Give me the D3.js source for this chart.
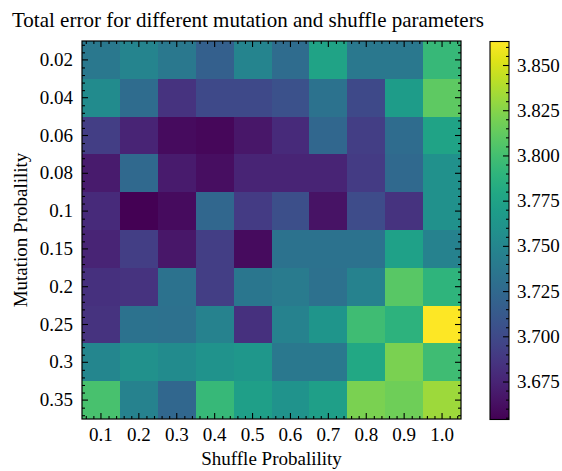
<!DOCTYPE html>
<html><head><meta charset="utf-8">
<script src="https://cdn.jsdelivr.net/npm/d3@7"></script>
<style>
body{margin:0;background:#fff;}
svg text{font-family:'Liberation Serif','Tinos','Nimbus Roman','Times New Roman','DejaVu Serif',serif !important;fill:#000;}
</style></head>
<body><svg id="c" width="562" height="471"></svg>
<script>
const shuffleLabels = ["0.1","0.2","0.3","0.4","0.5","0.6","0.7","0.8","0.9","1.0"];
const mutationLabels = ["0.02","0.04","0.06","0.08","0.1","0.15","0.2","0.25","0.3","0.35"];
// rows: mutation probability, columns: shuffle probability
const errorValues = [
  [3.738,3.748,3.738,3.717,3.748,3.727,3.775,3.738,3.738,3.794],
  [3.754,3.727,3.685,3.700,3.700,3.706,3.733,3.700,3.769,3.811],
  [3.692,3.675,3.660,3.658,3.667,3.679,3.723,3.692,3.727,3.775],
  [3.669,3.725,3.669,3.662,3.675,3.675,3.675,3.690,3.725,3.759],
  [3.679,3.654,3.660,3.723,3.690,3.704,3.664,3.702,3.685,3.759],
  [3.675,3.692,3.667,3.692,3.660,3.733,3.733,3.733,3.773,3.746],
  [3.683,3.685,3.733,3.692,3.736,3.740,3.731,3.746,3.809,3.790],
  [3.685,3.733,3.731,3.746,3.683,3.746,3.763,3.798,3.788,3.863],
  [3.750,3.759,3.754,3.761,3.765,3.738,3.738,3.779,3.821,3.798],
  [3.802,3.746,3.723,3.794,3.771,3.761,3.771,3.821,3.817,3.832]
];
const colorbarTicks = [3.675,3.700,3.725,3.750,3.775,3.800,3.825,3.850];
const titleText = "Total error for different mutation and shuffle parameters";
const xLabel = "Shuffle Probalility";
const yLabel = "Mutation Probalility";

const svg = d3.select("#c");
const L=82, R=461, T=41, B=419;
const FS = 19;

const x = d3.scaleBand().domain(shuffleLabels).range([L,R]).padding(0);
const y = d3.scaleBand().domain(mutationLabels).range([T,B]).padding(0);
const xi = d3.scaleLinear().domain([-0.5,9.5]).range([L,R]);
const yi = d3.scaleLinear().domain([-0.5,9.5]).range([T,B]);
const allVals = errorValues.flat();
const ext = d3.extent(allVals);
const color = d3.scaleSequential(d3.interpolateViridis).domain(ext);

const cells = [];
errorValues.forEach((row,i)=>row.forEach((v,j)=>cells.push({m:mutationLabels[i], s:shuffleLabels[j], v})));
svg.append("g").selectAll("rect").data(cells).join("rect")
  .attr("x",d=>x(d.s)).attr("y",d=>y(d.m))
  .attr("width",x.bandwidth()+0.3).attr("height",y.bandwidth()+0.3)
  .attr("fill",d=>color(d.v)).attr("shape-rendering","crispEdges");

const minor = d3.range(-0.4,9.5,0.2).map(v=>Math.round(v*10)/10).filter(v=>Math.abs(v-Math.round(v))>1e-6);

function styleAxis(g){
  g.attr("font-family",null).attr("font-size",null);
  g.selectAll(".domain").remove();
  g.selectAll(".tick line").attr("stroke","#000").attr("stroke-width",1.1);
  g.selectAll("text").style("font-size",FS+"px");
}
svg.append("g").attr("transform",`translate(0,${B})`)
  .call(d3.axisBottom(x).tickSize(-6).tickPadding(8.5)).call(styleAxis);
svg.append("g").attr("transform",`translate(0,${B})`)
  .call(d3.axisBottom(xi).tickValues(minor).tickSize(-3).tickFormat("")).call(styleAxis);
svg.append("g").attr("transform",`translate(0,${T})`)
  .call(d3.axisTop(x).tickSize(-6).tickFormat("")).call(styleAxis);
svg.append("g").attr("transform",`translate(0,${T})`)
  .call(d3.axisTop(xi).tickValues(minor).tickSize(-3).tickFormat("")).call(styleAxis);
svg.append("g").attr("transform",`translate(${L},0)`)
  .call(d3.axisLeft(y).tickSize(-6).tickPadding(9)).call(styleAxis);
svg.append("g").attr("transform",`translate(${L},0)`)
  .call(d3.axisLeft(yi).tickValues(minor).tickSize(-3).tickFormat("")).call(styleAxis);
svg.append("g").attr("transform",`translate(${R},0)`)
  .call(d3.axisRight(y).tickSize(-6).tickFormat("")).call(styleAxis);
svg.append("g").attr("transform",`translate(${R},0)`)
  .call(d3.axisRight(yi).tickValues(minor).tickSize(-3).tickFormat("")).call(styleAxis);
svg.append("rect").attr("x",L).attr("y",T).attr("width",R-L).attr("height",B-T)
  .attr("fill","none").attr("stroke","#000").attr("stroke-width",1.2);

svg.append("text").attr("x",12).attr("y",27).style("font-size","21px").text(titleText);
svg.append("text").attr("x",(L+R)/2).attr("y",465).attr("text-anchor","middle").style("font-size",FS+"px").text(xLabel);
svg.append("text").attr("transform",`translate(27,${(T+B)/2}) rotate(-90)`).attr("text-anchor","middle").style("font-size",FS+"px").text(yLabel);

const CL=490, CR=509, CT=41.5, CB=419.5;
const cy = d3.scaleLinear().domain(ext).range([CB,CT]);
const defs = svg.append("defs");
const grad = defs.append("linearGradient").attr("id","vg").attr("x1","0").attr("y1","1").attr("x2","0").attr("y2","0");
d3.range(0,1.0001,0.05).forEach(t=>grad.append("stop").attr("offset",t).attr("stop-color",d3.interpolateViridis(t)));
svg.append("rect").attr("x",CL).attr("y",CT).attr("width",CR-CL).attr("height",CB-CT).attr("fill","url(#vg)");
const cbMinor = d3.range(3.655,3.8631,0.005).map(v=>Math.round(v*1000)/1000).filter(v=>!colorbarTicks.some(t=>Math.abs(t-v)<1e-6));
svg.append("g").attr("transform",`translate(${CR},0)`)
  .call(d3.axisRight(cy).tickValues(colorbarTicks).tickSize(-6).tickPadding(8).tickFormat(d3.format(".3f"))).call(styleAxis);
svg.append("g").attr("transform",`translate(${CR},0)`)
  .call(d3.axisRight(cy).tickValues(cbMinor).tickSize(-3).tickFormat("")).call(styleAxis);
svg.append("rect").attr("x",CL).attr("y",CT).attr("width",CR-CL).attr("height",CB-CT)
  .attr("fill","none").attr("stroke","#000").attr("stroke-width",1.1);
</script></body></html>
